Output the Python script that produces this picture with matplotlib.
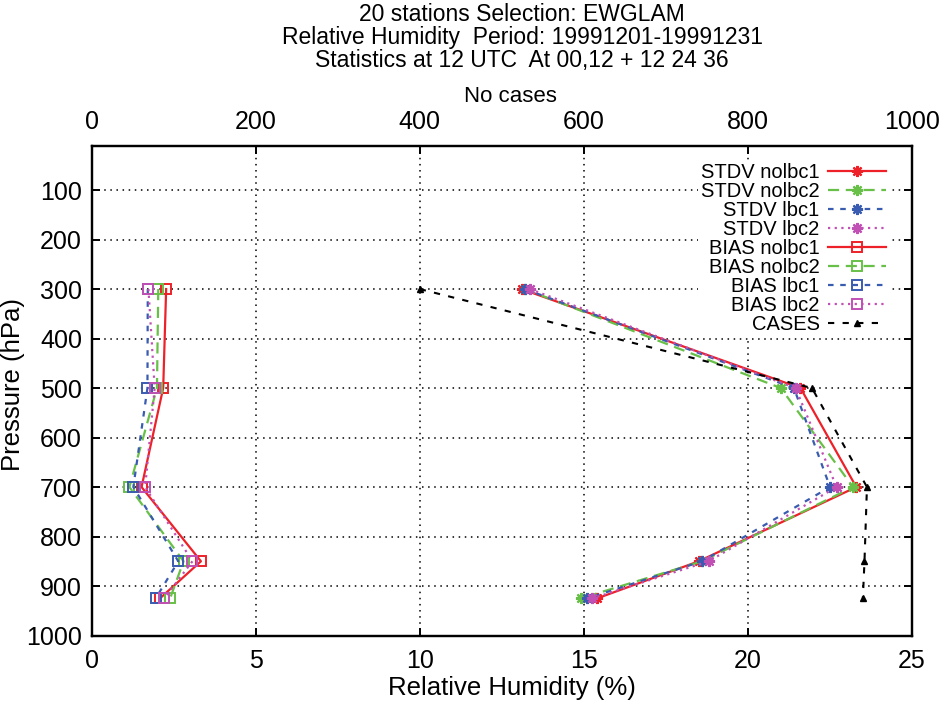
import matplotlib
matplotlib.use("Agg")
import matplotlib.pyplot as plt

plt.rcParams['font.family'] = ['Liberation Sans', 'DejaVu Sans']

levels = [300, 500, 700, 850, 925]

stdv_nolbc1 = [13.10, 21.60, 23.30, 18.50, 15.40]
stdv_nolbc2 = [13.20, 21.00, 23.20, 18.60, 14.90]
stdv_lbc1 = [13.20, 21.40, 22.50, 18.60, 15.10]
stdv_lbc2 = [13.35, 21.45, 22.70, 18.80, 15.25]

bias_nolbc1 = [2.27, 2.18, 1.52, 3.33, 2.08]
bias_nolbc2 = [2.03, 1.99, 1.15, 2.80, 2.39]
bias_lbc1 = [1.71, 1.70, 1.27, 2.64, 1.95]
bias_lbc2 = [1.73, 1.92, 1.63, 3.07, 2.21]

cases = [400, 878, 945, 942, 940]

x_ticks = [0, 5, 10, 15, 20, 25]
top_ticks = [0, 200, 400, 600, 800, 1000]
p_ticks = [100, 200, 300, 400, 500, 600, 700, 800, 900, 1000]

RED = "#ee2028"
GREEN = "#68c048"
BLUE = "#3a5cb0"
PURPLE = "#c050b4"

styles = [
    ("nolbc1", RED, "-"),
    ("nolbc2", GREEN, (0, (5, 3))),
    ("lbc1", BLUE, (0, (2.5, 3))),
    ("lbc2", PURPLE, (0, (1, 2))),
]

fig = plt.figure(figsize=(9.43, 7.01), dpi=100)
ax = fig.add_axes([0.0972, 0.0934, 0.870, 0.699])
ax2 = ax.twiny()

handles = []
for (name, col, ls), vals in zip(styles, [stdv_nolbc1, stdv_nolbc2, stdv_lbc1, stdv_lbc2]):
    h, = ax.plot(vals, levels, color=col, ls=ls, lw=1.6, marker=(8, 2, 0),
                 markersize=8, markeredgewidth=1.6, label="STDV " + name)
    handles.append(h)
for (name, col, ls), vals in zip(styles, [bias_nolbc1, bias_nolbc2, bias_lbc1, bias_lbc2]):
    h, = ax.plot(vals, levels, color=col, ls=ls, lw=1.6, marker="s",
                 markersize=7.5, markeredgewidth=1.4, fillstyle="none",
                 label="BIAS " + name)
    handles.append(h)

h, = ax2.plot(cases, levels, color="black", ls=(0, (3, 4)), lw=1.5, marker="^",
              markersize=5, label="CASES")
handles.append(h)

ax.set_xlim(0, 25)
ax.set_ylim(1000, 10)
ax2.set_xlim(0, 1000)
ax.set_xticks(x_ticks)
ax.set_yticks(p_ticks)
ax2.set_xticks(top_ticks)

ax.grid(True, color="black", ls=(0, (1, 3)), lw=1.1)

for a in (ax, ax2):
    for s in a.spines.values():
        s.set_linewidth(1.6)
ax.tick_params(axis="both", direction="in", length=6, width=1.4, labelsize=18)
ax.tick_params(axis="x", pad=10)
ax.tick_params(axis="y", right=True, pad=7)
ax2.tick_params(axis="x", direction="in", length=6, width=1.4, labelsize=18, pad=8)

leg = ax2.legend(handles=handles, loc="upper right", bbox_to_anchor=(0.972, 0.97),
                 markerfirst=False, frameon=True, fancybox=False, framealpha=1,
                 edgecolor="white", fontsize=14.5, labelspacing=0.0,
                 handlelength=2.9, handletextpad=0.4, borderpad=0.15,
                 borderaxespad=0, numpoints=1)
leg.get_frame().set_linewidth(0)

fig.text(0.5536, 0.980, "20 stations Selection: EWGLAM", ha="center", va="center", fontsize=16.5)
fig.text(0.5536, 0.947, "Relative Humidity  Period: 19991201-19991231", ha="center", va="center", fontsize=16.5)
fig.text(0.5536, 0.913, "Statistics at 12 UTC  At 00,12 + 12 24 36", ha="center", va="center", fontsize=16.5)
fig.text(0.541, 0.862, "No cases", ha="center", va="center", fontsize=16)
fig.text(0.543, 0.018, "Relative Humidity (%)", ha="center", va="center", fontsize=18.5)
fig.text(0.014, 0.452, "Pressure (hPa)", ha="center", va="center", rotation=90, fontsize=18.5)

fig.savefig("out.png", dpi=100)
